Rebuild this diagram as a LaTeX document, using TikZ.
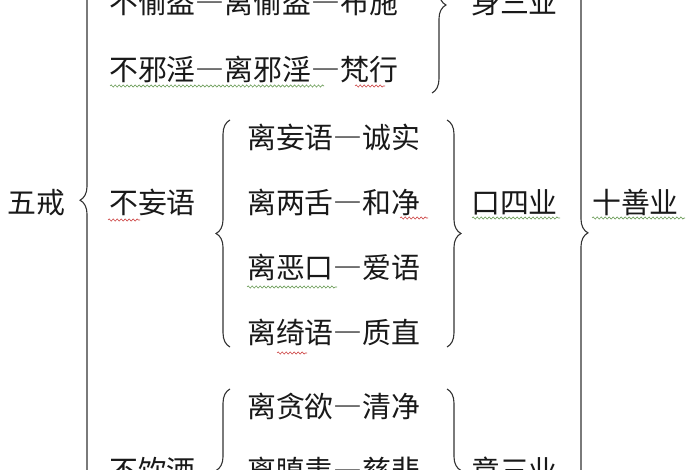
\documentclass[tikz,border=0pt]{standalone}
\usepackage{fontspec}
\newfontfamily\cjk[RawFeature=+fwid]{Noto Sans CJK SC}
\usetikzlibrary{decorations.pathreplacing,decorations.pathmorphing}
\definecolor{inkgray}{RGB}{25,25,25}
\definecolor{bracegray}{RGB}{50,50,50}
\definecolor{spellred}{RGB}{205,70,70}
\definecolor{grammargreen}{RGB}{105,155,85}
\tikzset{
 word/.style={anchor=base west,inner sep=0pt,text=inkgray,font=\cjk\fontsize{29}{29}\selectfont},
 curly/.style={draw=bracegray,line width=1.1pt,decorate,decoration={brace,amplitude=14pt}},
 wavy/.style={line width=0.6pt,decorate,decoration={snake,segment length=4pt,amplitude=1.1pt}}
}
\begin{document}
\begin{tikzpicture}[x=1bp,y=-1bp]
\useasboundingbox (0,0) rectangle (700,470);
\clip (0,0) rectangle (700,470);
\node[word] (wujie) at(7,214){五戒};
\node[word] (toudao) at(109,14){不偷盗—离偷盗—布施};
\node[word] (xieyin) at(109,81){不邪淫—离邪淫—梵行};
\node[word] (wangyu) at(109,214){不妄语};
\node[word] (yinjiu) at(109,481){不饮酒};
\node[word] (chengshi) at(247,149){离妄语—诚实};
\node[word] (hejing) at(247,214){离两舌—和净};
\node[word] (aiyu) at(247,279){离恶口—爱语};
\node[word] (zhizhi) at(247,344){离绮语—质直};
\node[word] (qingjing) at(247,417){离贪欲—清净};
\node[word] (cibei) at(247,481){离瞋恚—慈悲};
\node[word] (shen) at(471,14){身三业};
\node[word] (kou) at(471,214){口四业};
\node[word] (yi) at(471,481){意三业};
\node[word] (shishan) at(592,214){十善业};
\coordinate (wujie-top) at (94,-120);
\coordinate (wujie-bot) at (94,590);
\coordinate (wangyu-top) at (230,120);
\coordinate (wangyu-bot) at (230,347);
\coordinate (yinjiu-top) at (230,389);
\coordinate (yinjiu-bot) at (230,552);
\coordinate (shen-top) at (432,-83);
\coordinate (shen-bot) at (432,93);
\coordinate (kou-top) at (447,120);
\coordinate (kou-bot) at (447,347);
\coordinate (yi-top) at (447,389);
\coordinate (yi-bot) at (447,552);
\coordinate (shishan-top) at (574,-120);
\coordinate (shishan-bot) at (574,590);
\draw[curly,decoration={aspect=0.549}] (wujie-bot) -- (wujie-top);
\draw[curly] (wangyu-bot) -- (wangyu-top);
\draw[curly] (yinjiu-bot) -- (yinjiu-top);
\draw[curly] (shen-top) -- (shen-bot);
\draw[curly] (kou-top) -- (kou-bot);
\draw[curly] (yi-top) -- (yi-bot);
\draw[curly,decoration={aspect=0.497}] (shishan-top) -- (shishan-bot);
\draw[wavy,grammargreen] (110,86) -- (324,86);
\draw[wavy,spellred] (355,86) -- (385,86);
\draw[wavy,spellred] (108,220) -- (140,220);
\draw[wavy,spellred] (400,218) -- (428,218);
\draw[wavy,grammargreen] (247,287) -- (337,287);
\draw[wavy,spellred] (277,353) -- (307,353);
\draw[wavy,grammargreen] (472,218) -- (560,218);
\draw[wavy,grammargreen] (592,218) -- (685,218);
\end{tikzpicture}
\end{document}
